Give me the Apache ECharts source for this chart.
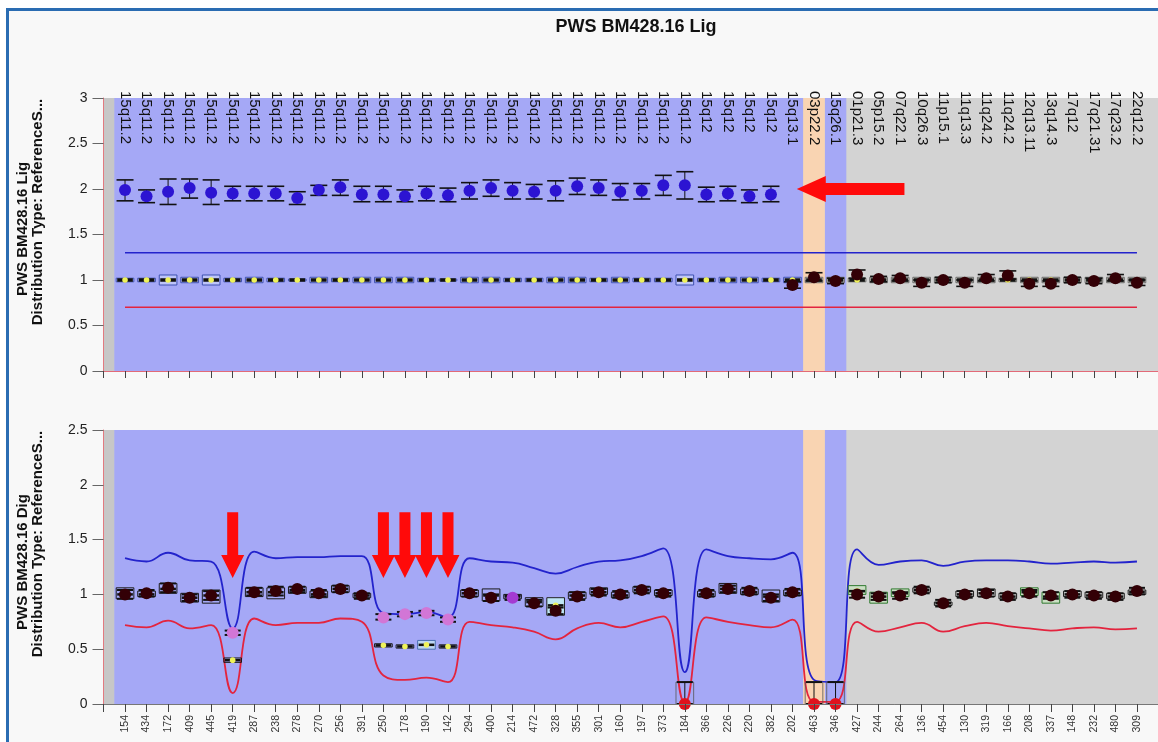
<!DOCTYPE html>
<html><head><meta charset="utf-8">
<script src="https://cdn.jsdelivr.net/npm/echarts@6/dist/echarts.min.js"></script>
<style>html,body{margin:0;padding:0;background:#fff}#c{width:1158px;height:742px}</style>
</head><body><div id="c"></div>
<script>
// ---------------- DATA ----------------
const topCategories = ['15q11.2','15q11.2','15q11.2','15q11.2','15q11.2','15q11.2','15q11.2','15q11.2','15q11.2','15q11.2',
  '15q11.2','15q11.2','15q11.2','15q11.2','15q11.2','15q11.2','15q11.2','15q11.2','15q11.2','15q11.2',
  '15q11.2','15q11.2','15q11.2','15q11.2','15q11.2','15q11.2','15q11.2','15q12','15q12','15q12',
  '15q12','15q13.1','03p22.2','15q26.1','01p21.3','05p15.2','07q22.1','10q26.3','11p15.1','11q13.3',
  '11q24.2','11q24.2','12q13.11','13q14.3','17q12','17q21.31','17q23.2','22q12.2'];
const bottomCategories = ['154','434','172','409','445','419','287','238','278','270',
  '256','391','250','178','190','142','294','400','214','472',
  '328','355','301','160','197','373','184','366','226','220',
  '382','202','463','346','427','244','264','136','454','130',
  '319','166','208','337','148','232','480','309'];

// Top chart (Lig)
const topValue = [1.99,1.92,1.97,2.01,1.96,1.95,1.95,1.95,1.90,1.99,
  2.02,1.94,1.94,1.92,1.95,1.93,1.98,2.01,1.98,1.97,
  1.98,2.03,2.01,1.97,1.98,2.04,2.04,1.94,1.95,1.92,
  1.94,0.945,1.03,0.99,1.06,1.01,1.02,0.97,1.00,0.97,
  1.02,1.05,0.96,0.96,1.00,0.99,1.02,0.97];
const topErrLow = [1.87,1.85,1.83,1.90,1.83,1.87,1.87,1.87,1.83,1.93,
  1.93,1.86,1.86,1.86,1.87,1.86,1.89,1.92,1.89,1.89,
  1.87,1.94,1.93,1.88,1.89,1.93,1.89,1.86,1.87,1.85,
  1.86,0.91,0.99,0.96,1.02,0.98,0.99,0.93,0.97,0.93,
  0.99,1.01,0.93,0.93,0.97,0.96,0.99,0.94];
const topErrHigh = [2.10,1.99,2.11,2.11,2.10,2.03,2.03,2.03,1.97,2.04,
  2.10,2.03,2.03,1.99,2.03,2.01,2.07,2.10,2.07,2.05,
  2.09,2.12,2.10,2.06,2.06,2.15,2.19,2.02,2.03,1.99,
  2.03,0.98,1.08,1.02,1.11,1.04,1.05,1.00,1.03,1.00,
  1.06,1.10,0.99,0.99,1.03,1.02,1.06,1.00];
const topCall = ['gain','gain','gain','gain','gain','gain','gain','gain','gain','gain',
  'gain','gain','gain','gain','gain','gain','gain','gain','gain','gain',
  'gain','gain','gain','gain','gain','gain','gain','gain','gain','gain',
  'gain','normal','normal','normal','normal','normal','normal','normal','normal','normal',
  'normal','normal','normal','normal','normal','normal','normal','normal'];
const topRefLow = [0.98,0.98,0.945,0.97,0.945,0.98,0.97,0.98,0.99,0.97,
  0.98,0.97,0.97,0.97,0.98,0.99,0.97,0.97,0.98,0.98,
  0.97,0.97,0.98,0.97,0.98,0.98,0.945,0.98,0.97,0.97,
  0.98,0.97,0.97,0.97,0.98,0.97,0.97,0.97,0.97,0.97,
  0.97,0.98,0.97,0.97,0.97,0.97,0.97,0.97];
const topRefHigh = [1.02,1.02,1.055,1.03,1.055,1.02,1.03,1.02,1.01,1.03,
  1.02,1.03,1.03,1.03,1.02,1.01,1.03,1.03,1.02,1.02,
  1.03,1.03,1.02,1.03,1.02,1.02,1.055,1.02,1.03,1.03,
  1.02,1.03,1.03,1.03,1.02,1.03,1.03,1.03,1.03,1.03,
  1.03,1.02,1.03,1.03,1.03,1.03,1.03,1.03];
const topRefMedian = [1.00,1.00,1.00,1.00,1.00,1.00,1.00,1.00,1.00,1.00,
  1.00,1.00,1.00,1.00,1.00,1.00,1.00,1.00,1.00,1.00,
  1.00,1.00,1.00,1.00,1.00,1.00,1.00,1.00,1.00,1.00,
  1.00,1.00,1.00,1.00,1.00,1.00,1.00,1.00,1.00,1.00,
  1.00,1.00,1.00,1.00,1.00,1.00,1.00,1.00];
const topUpper = [1.3,1.3,1.3,1.3,1.3,1.3,1.3,1.3,1.3,1.3,1.3,1.3,1.3,1.3,1.3,1.3,
  1.3,1.3,1.3,1.3,1.3,1.3,1.3,1.3,1.3,1.3,1.3,1.3,1.3,1.3,1.3,1.3,
  1.3,1.3,1.3,1.3,1.3,1.3,1.3,1.3,1.3,1.3,1.3,1.3,1.3,1.3,1.3,1.3];
const topLower = [0.7,0.7,0.7,0.7,0.7,0.7,0.7,0.7,0.7,0.7,0.7,0.7,0.7,0.7,0.7,0.7,
  0.7,0.7,0.7,0.7,0.7,0.7,0.7,0.7,0.7,0.7,0.7,0.7,0.7,0.7,0.7,0.7,
  0.7,0.7,0.7,0.7,0.7,0.7,0.7,0.7,0.7,0.7,0.7,0.7,0.7,0.7,0.7,0.7];

// Bottom chart (Dig)
const bottomValue = [1.00,1.01,1.06,0.97,0.99,0.65,1.02,1.03,1.05,1.01,
  1.05,0.99,0.79,0.82,0.83,0.77,1.01,0.97,0.97,0.92,
  0.85,0.98,1.02,1.00,1.04,1.01,0.00,1.01,1.05,1.03,
  0.97,1.02,0.00,0.00,1.00,0.98,0.99,1.04,0.92,1.00,
  1.01,0.98,1.01,0.99,1.00,0.99,0.98,1.03];
const bottomErrLow = [0.96,0.98,1.02,0.94,0.95,0.63,0.99,0.99,1.02,0.98,
  1.02,0.96,0.77,0.80,0.81,0.75,0.98,0.94,0.95,0.89,
  0.82,0.95,0.99,0.97,1.01,0.98,0.00,0.98,1.02,1.00,
  0.94,0.99,0.00,0.00,0.97,0.95,0.96,1.01,0.89,0.97,
  0.98,0.95,0.98,0.96,0.97,0.96,0.95,1.00];
const bottomErrHigh = [1.04,1.04,1.10,1.00,1.03,0.67,1.06,1.07,1.07,1.04,
  1.08,1.01,0.82,0.84,0.85,0.79,1.04,1.00,0.99,0.95,
  0.88,1.02,1.05,1.03,1.07,1.04,0.20,1.04,1.08,1.06,
  1.00,1.05,0.20,0.20,1.03,1.01,1.02,1.07,0.95,1.03,
  1.04,1.01,1.04,1.02,1.03,1.02,1.01,1.06];
const bottomCall = ['normal','normal','normal','normal','normal','loss','normal','normal','normal','normal',
  'normal','normal','loss','loss','loss','loss','normal','normal','ambiguous','normal',
  'normal','normal','normal','normal','normal','normal','zero','normal','normal','normal',
  'normal','normal','zero','zero','normal','normal','normal','normal','normal','normal',
  'normal','normal','normal','normal','normal','normal','normal','normal'];
const bottomRefLow = [0.96,0.98,1.01,0.93,0.92,0.38,0.98,0.96,1.01,0.97,
  1.02,0.97,0.52,0.51,0.50,0.51,0.98,0.94,0.96,0.89,
  0.81,0.96,1.00,0.97,1.02,0.99,0.00,0.98,1.01,1.00,
  0.93,0.99,0.00,0.00,1.00,0.92,0.98,1.02,0.90,0.98,
  0.98,0.96,0.99,0.92,0.98,0.97,0.96,1.00];
const bottomRefHigh = [1.06,1.03,1.10,1.01,1.04,0.42,1.06,1.06,1.07,1.03,
  1.08,1.01,0.55,0.54,0.58,0.54,1.04,1.05,1.00,0.97,
  0.97,1.02,1.06,1.02,1.07,1.04,0.20,1.03,1.10,1.05,
  1.04,1.04,0.20,0.20,1.08,1.02,1.05,1.06,0.93,1.03,
  1.05,1.01,1.06,1.02,1.03,1.02,1.01,1.04];
const bottomRefMedian = [1.00,1.00,1.05,0.97,0.99,0.40,1.02,1.02,1.04,1.00,
  1.05,0.99,0.535,0.525,0.54,0.525,1.01,0.99,0.98,0.93,
  0.90,0.99,1.02,0.99,1.04,1.01,0.10,1.00,1.05,1.02,
  0.98,1.01,0.10,0.10,1.03,0.98,1.01,1.04,0.92,1.00,
  1.01,0.98,1.02,0.98,1.00,0.99,0.98,1.02];
const bottomUpper = [1.33,1.30,1.38,1.31,1.30,0.69,1.39,1.33,1.34,1.34,
  1.35,1.35,0.83,0.82,0.84,0.79,1.33,1.30,1.29,1.24,
  1.19,1.25,1.30,1.31,1.35,1.42,0.29,1.41,1.35,1.33,
  1.32,1.38,0.22,0.20,1.41,1.27,1.30,1.31,1.26,1.30,
  1.31,1.31,1.30,1.28,1.29,1.30,1.29,1.30];
const bottomLower = [0.72,0.70,0.76,0.69,0.72,0.10,0.78,0.72,0.74,0.74,
  0.78,0.75,0.26,0.22,0.24,0.20,0.75,0.72,0.70,0.66,
  0.59,0.69,0.74,0.70,0.75,0.80,0.01,0.79,0.75,0.72,
  0.70,0.77,0.02,0.02,0.75,0.66,0.70,0.74,0.66,0.71,
  0.74,0.71,0.69,0.67,0.69,0.70,0.68,0.69];

// Region groups (category index ranges)
const regionBlue = [[0,31],[33,33]];
const regionOrange = [[32,32]];

// Annotation arrows
const bottomArrowCats = [5,12,13,14,15];
const bottomArrowFromTo = [1.75,1.15];
const topArrow = [[36.2,2.0],[31.2,2.0]];

// Texts
const titleText = 'PWS BM428.16 Lig';
const topAxisName = ['PWS BM428.16 Lig','Distribution Type: ReferenceS...'];
const bottomAxisName = ['PWS BM428.16 Dig','Distribution Type: ReferenceS...'];

// ---------------- CHART ----------------
const chart = echarts.init(document.getElementById('c'), null, {renderer:'canvas'});
const GL = 103.5, GW = 1055;
const FONT = 'Liberation Sans, Arial, sans-serif';

function pairs(a){ return a.map((v,i)=>[i,v]); }
function pick(vals, calls, c){ const out=[]; vals.forEach((v,i)=>{ if(calls[i]===c) out.push([i,v]); }); return out; }

function bandsMarkArea(){
  const d = [];
  d.push([{xAxis:-1, itemStyle:{color:'#c7c7c7'}},{xAxis:-0.5}]);
  regionBlue.forEach(r=>d.push([{xAxis:r[0]-0.5, itemStyle:{color:'#a5a8f6'}},{xAxis:r[1]+0.5}]));
  regionOrange.forEach(r=>d.push([{xAxis:r[0]-0.5, itemStyle:{color:'#f9d4b2'}},{xAxis:r[1]+0.5}]));
  return {silent:true, data:d};
}

const greenBoxes = [34,35,36,42,43];
function boxRenderer(which){
  return function(params, api){
    const i = params.dataIndex;
    const x=api.value(0), lo=api.value(1), hi=api.value(2), med=api.value(3);
    const t=api.coord([x,hi]), b=api.coord([x,lo]), m=api.coord([x,med]);
    const w = api.size([1,0])[0]*0.82;
    let fill='rgba(205,215,255,0.6)', stroke='#3e50b0', lw=1, showMed=true, medW=3.5;
    if(which==='top'){
      if(i>=32){ fill='rgba(215,215,200,0.8)'; stroke='#6a6a6a'; }
    } else {
      medW=2.5;
      fill='rgba(0,0,0,0)'; stroke='#1a1a1a';
      if(greenBoxes.indexOf(i)>=0){ fill='rgba(200,228,190,0.7)'; stroke='#2f7a2f'; }
      if(i===20){ fill='#bfe6f5'; stroke='#222'; }
      if(i===14){ fill='#bcd6f4'; stroke='#4a6eb0'; }
      if(bottomCall[i]==='zero'){ stroke='#555'; lw=0.8; showMed=false; }
    }
    const ch = [{type:'rect', shape:{x:t[0]-w/2, y:t[1], width:w, height:Math.max(b[1]-t[1],1)}, style:{fill:fill, stroke:stroke, lineWidth:lw}}];
    if(showMed){
      ch.push({type:'line', shape:{x1:m[0]-w/2+1,y1:m[1],x2:m[0]+w/2-1,y2:m[1]}, style:{stroke:'#111', lineWidth:medW}});
      ch.push({type:'circle', shape:{cx:m[0], cy:m[1], r:2.8}, style:{fill:'#eef25a'}});
    }
    return {type:'group', children:ch};
  };
}
function errRenderer(capW, color, lw){
  return function(params, api){
    const x=api.value(0), lo=api.value(1), hi=api.value(2);
    const a=api.coord([x,hi]), b=api.coord([x,lo]);
    return {type:'group', children:[
      {type:'line', shape:{x1:a[0],y1:a[1],x2:b[0],y2:b[1]}, style:{stroke:color,lineWidth:1}},
      {type:'line', shape:{x1:a[0]-capW/2,y1:a[1],x2:a[0]+capW/2,y2:a[1]}, style:{stroke:color,lineWidth:lw}},
      {type:'line', shape:{x1:b[0]-capW/2,y1:b[1],x2:b[0]+capW/2,y2:b[1]}, style:{stroke:color,lineWidth:lw}}
    ]};
  };
}
function downArrow(params, api){
  const x=api.value(0), a=api.coord([x,api.value(1)]), b=api.coord([x,api.value(2)]);
  const cx=a[0], y0=a[1], y1=b[1], hs=5.5, hh=11.5, hl=23;
  return {type:'polygon', shape:{points:[[cx-hs,y0],[cx+hs,y0],[cx+hs,y1-hl],[cx+hh,y1-hl],[cx,y1],[cx-hh,y1-hl],[cx-hs,y1-hl]]}, style:{fill:'#ff0a0a'}};
}
function leftArrow(params, api){
  const a=api.coord([api.value(0),api.value(1)]), b=api.coord([api.value(2),api.value(3)]);
  const cy=a[1], x0=a[0], x1=b[0], hs=6, hh=13, hl=29;
  return {type:'polygon', shape:{points:[[x0,cy-hs],[x0,cy+hs],[x1+hl,cy+hs],[x1+hl,cy+hh],[x1,cy],[x1+hl,cy-hh],[x1+hl,cy-hs]]}, style:{fill:'#ff0a0a'}};
}

const fmtTop = v => (Number.isInteger(v) && v>=0 && v<topCategories.length) ? topCategories[v] : '';
const fmtBottom = v => (Number.isInteger(v) && v>=0 && v<bottomCategories.length) ? bottomCategories[v] : '';

const yLabel = {fontFamily:FONT, fontSize:14, color:'#222', margin:16};
function nameText(txt, x, y){
  return {type:'text', x:x, y:y, rotation:Math.PI/2, silent:true,
    style:{text:txt, fontFamily:FONT, fontWeight:'bold', fontSize:15, fill:'#111', align:'center', verticalAlign:'middle'}};
}

const option = {
  backgroundColor:'#f8f8f8',
  animation:false,
  title:{text:titleText, left:631, top:13, textAlign:'center',
    textStyle:{fontFamily:FONT, fontWeight:'bold', fontSize:18, color:'#111'}},
  graphic:[
    {type:'rect', shape:{x:0,y:0,width:1158,height:8}, style:{fill:'#ffffff'}, silent:true},
    {type:'rect', shape:{x:0,y:0,width:6,height:742}, style:{fill:'#ffffff'}, silent:true},
    {type:'rect', shape:{x:7.5,y:9.5,width:1160,height:740}, style:{fill:'none', stroke:'#2a6cb2', lineWidth:3}, silent:true},
    nameText(topAxisName[0], 23, 229),
    nameText(topAxisName[1], 38, 212),
    nameText(bottomAxisName[0], 23, 562),
    nameText(bottomAxisName[1], 38, 544)
  ],
  grid:[
    {left:GL, top:98, width:GW, height:273, show:true, backgroundColor:'#d3d3d3', borderWidth:0, outerBoundsMode:'none'},
    {left:GL, top:430, width:GW, height:274, show:true, backgroundColor:'#d3d3d3', borderWidth:0, outerBoundsMode:'none'}
  ],
  xAxis:[
    {type:'value', gridIndex:0, min:-1, max:48, interval:1, position:'bottom', z:10,
      axisLine:{show:true, onZero:false, lineStyle:{color:'#e26a78', width:1}}, axisTick:{show:true, length:7, lineStyle:{color:'#444'}},
      axisLabel:{show:false}, splitLine:{show:false}},
    {type:'value', gridIndex:0, min:-1, max:48, interval:1, position:'top', z:10,
      axisLine:{show:false, onZero:false}, axisTick:{show:false}, splitLine:{show:false},
      axisLabel:{show:true, inside:true, rotate:90, margin:-7, formatter:fmtTop,
        fontFamily:FONT, fontSize:15, color:'#111'}},
    {type:'value', gridIndex:1, min:-1, max:48, interval:1, position:'bottom', z:10,
      axisLine:{show:true, onZero:false, lineStyle:{color:'#777', width:1}}, axisTick:{show:true, length:8, lineStyle:{color:'#444'}},
      splitLine:{show:false},
      axisLabel:{show:true, rotate:90, margin:11, formatter:fmtBottom,
        fontFamily:FONT, fontSize:10.5, color:'#333'}}
  ],
  yAxis:[
    {type:'value', gridIndex:0, min:0, max:3, interval:0.5, z:10,
      axisLine:{show:true, onZero:false, lineStyle:{color:'#e27a80'}}, axisTick:{show:true, length:11, lineStyle:{color:'#666'}},
      axisLabel:yLabel, splitLine:{show:false}},
    {type:'value', gridIndex:1, min:0, max:2.5, interval:0.5, z:10,
      axisLine:{show:true, onZero:false, lineStyle:{color:'#e27a80'}}, axisTick:{show:true, length:11, lineStyle:{color:'#666'}},
      axisLabel:yLabel, splitLine:{show:false}}
  ],
  series:[
    // ---- top ----
    {type:'line', xAxisIndex:0, yAxisIndex:0, z:1, data:[], markArea:bandsMarkArea()},
    {type:'line', xAxisIndex:0, yAxisIndex:0, z:3, data:pairs(topUpper), symbol:'none', lineStyle:{color:'#2323cc', width:1.6}},
    {type:'line', xAxisIndex:0, yAxisIndex:0, z:3, data:pairs(topLower), symbol:'none', lineStyle:{color:'#e3243e', width:1.6}},
    {type:'custom', xAxisIndex:0, yAxisIndex:0, z:4, renderItem:boxRenderer('top'), encode:{x:0, y:[1,2,3]},
      data:topRefLow.map((lo,i)=>[i,lo,topRefHigh[i],topRefMedian[i]])},
    {type:'custom', xAxisIndex:0, yAxisIndex:0, z:5, renderItem:errRenderer(17,'#111',1.6), encode:{x:0, y:[1,2]},
      data:topErrLow.map((lo,i)=>[i,lo,topErrHigh[i]])},
    {type:'scatter', xAxisIndex:0, yAxisIndex:0, z:6, symbolSize:12, data:pick(topValue, topCall, 'gain'),
      itemStyle:{color:'#2c14d2', opacity:1}},
    {type:'scatter', xAxisIndex:0, yAxisIndex:0, z:6, symbolSize:12, data:pick(topValue, topCall, 'normal'),
      itemStyle:{color:'#330006', opacity:1}},
    {type:'custom', xAxisIndex:0, yAxisIndex:0, z:7, renderItem:leftArrow, encode:{x:[0,2], y:[1,3]},
      data:[[topArrow[0][0], topArrow[0][1], topArrow[1][0], topArrow[1][1]]]},
    // ---- bottom ----
    {type:'line', xAxisIndex:2, yAxisIndex:1, z:1, data:[], markArea:bandsMarkArea()},
    {type:'line', xAxisIndex:2, yAxisIndex:1, z:3, data:pairs(bottomUpper), symbol:'none', smooth:0.45, lineStyle:{color:'#2323cc', width:1.8}},
    {type:'line', xAxisIndex:2, yAxisIndex:1, z:3, data:pairs(bottomLower), symbol:'none', smooth:0.45, lineStyle:{color:'#e3243e', width:1.8}},
    {type:'custom', xAxisIndex:2, yAxisIndex:1, z:4, renderItem:boxRenderer('bottom'), encode:{x:0, y:[1,2,3]},
      data:bottomRefLow.map((lo,i)=>[i,lo,bottomRefHigh[i],bottomRefMedian[i]])},
    {type:'custom', xAxisIndex:2, yAxisIndex:1, z:5, renderItem:errRenderer(16,'#111',2), encode:{x:0, y:[1,2]},
      data:bottomErrLow.map((lo,i)=>[i,lo,bottomErrHigh[i]])},
    {type:'scatter', xAxisIndex:2, yAxisIndex:1, z:6, symbolSize:12, data:pick(bottomValue, bottomCall, 'normal'), itemStyle:{color:'#330006', opacity:1}},
    {type:'scatter', xAxisIndex:2, yAxisIndex:1, z:6, symbolSize:12, data:pick(bottomValue, bottomCall, 'loss'), itemStyle:{color:'#d276d6', opacity:1}},
    {type:'scatter', xAxisIndex:2, yAxisIndex:1, z:6, symbolSize:12, data:pick(bottomValue, bottomCall, 'ambiguous'), itemStyle:{color:'#a43ad2', opacity:1}},
    {type:'scatter', xAxisIndex:2, yAxisIndex:1, z:6, symbolSize:12, data:pick(bottomValue, bottomCall, 'zero'), itemStyle:{color:'#e0121c', opacity:1}, clip:false},
    {type:'custom', xAxisIndex:2, yAxisIndex:1, z:7, renderItem:downArrow, encode:{x:0, y:[1,2]},
      data:bottomArrowCats.map(c=>[c, bottomArrowFromTo[0], bottomArrowFromTo[1]])}
  ]
};
chart.setOption(option);
</script>
</body></html>
